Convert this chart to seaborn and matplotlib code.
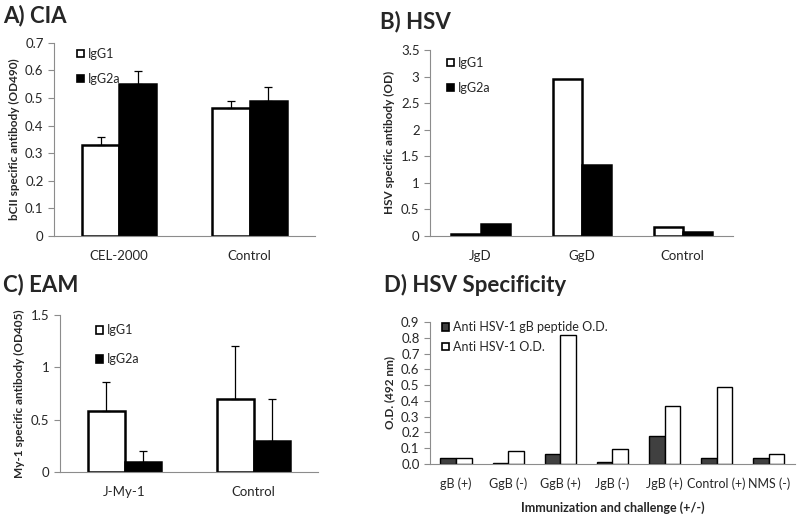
import numpy as np
import pandas as pd
import matplotlib
matplotlib.use("Agg")
import matplotlib.pyplot as plt
import seaborn as sns

# ── data ──────────────────────────────────────────
cia_groups = ["CEL-2000", "Control"]
cia_igg1 = [0.33, 0.465]
cia_igg1_err = [0.03, 0.025]
cia_igg2a = [0.55, 0.49]
cia_igg2a_err = [0.048, 0.05]

hsv_groups = ["JgD", "GgD", "Control"]
hsv_igg1 = [0.03, 2.96, 0.16]
hsv_igg2a = [0.23, 1.33, 0.07]

eam_groups = ["J-My-1", "Control"]
eam_igg1 = [0.58, 0.70]
eam_igg1_err = [0.28, 0.50]
eam_igg2a = [0.10, 0.30]
eam_igg2a_err = [0.10, 0.40]

spec_groups = ["gB (+)", "GgB (-)", "GgB (+)", "JgB (-)", "JgB (+)", "Control (+)", "NMS (-)"]
spec_peptide = [0.04, 0.005, 0.065, 0.01, 0.18, 0.035, 0.035]
spec_hsv1 = [0.035, 0.08, 0.82, 0.095, 0.37, 0.49, 0.06]

FONT = ["Lato", "DejaVu Sans"]
AXIS = "#8c8c8c"

sns.set_style("white")
plt.rcParams["font.family"] = FONT


def long_df(groups, s1, s2, n1, n2):
    return pd.DataFrame({
        "group": list(groups) * 2,
        "series": [n1] * len(groups) + [n2] * len(groups),
        "value": list(s1) + list(s2),
    })


def style_axis(ax, ylim, yticks, fmt, ylabel, ngroups):
    ax.set_ylim(*ylim)
    ax.set_yticks(yticks)
    ax.set_yticklabels([fmt.format(v) for v in yticks], fontsize=9.5)
    ax.set_xlim(-0.5, ngroups - 0.5)
    ax.set_xticks(np.arange(-0.5, ngroups), minor=True)
    ax.tick_params(axis="x", which="major", length=0, labelsize=9.5, pad=10)
    ax.tick_params(axis="x", which="minor", length=4, color=AXIS, direction="out")
    ax.tick_params(axis="y", length=4, color=AXIS, direction="out", left=True)
    for sp in ["top", "right"]:
        ax.spines[sp].set_visible(False)
    for sp in ["left", "bottom"]:
        ax.spines[sp].set_color(AXIS)
        ax.spines[sp].set_linewidth(0.8)
    ax.set_xlabel("")
    ax.set_ylabel(ylabel, fontsize=8.5, fontweight="bold")


def draw_pair(ax, df, order, names, colors, width, lw):
    sns.barplot(data=df, x="group", y="value", hue="series", order=order,
                hue_order=names, palette=colors, width=width, ax=ax,
                edgecolor="black", linewidth=lw, saturation=1, errorbar=None)


def add_err(ax, errs, ngroups):
    # errors upward only, positioned from drawn bars
    bars = ax.patches[: 2 * ngroups]
    for p, e in zip(bars, errs):
        x = p.get_x() + p.get_width() / 2
        y = p.get_height()
        ax.errorbar(x, y, yerr=[[0], [e]], color="black", capsize=3,
                    elinewidth=0.9, capthick=0.9, zorder=5)


def legend(ax, loc, spacing):
    leg = ax.legend(loc="upper left", bbox_to_anchor=loc, frameon=False,
                    fontsize=9, handlelength=0.55, handleheight=0.55,
                    handletextpad=0.3, labelspacing=spacing, borderaxespad=0)
    for h in leg.legend_handles:
        h.set_linewidth(1.2)


fig = plt.figure(figsize=(8, 5.16), dpi=100)

# ── A) CIA ──
axA = fig.add_axes([0.0675, 0.543, 0.326, 0.374])
dfA = long_df(cia_groups, cia_igg1, cia_igg2a, "IgG1", "IgG2a")
draw_pair(axA, dfA, cia_groups, ["IgG1", "IgG2a"], ["white", "black"], 0.57, 1.8)
add_err(axA, cia_igg1_err + cia_igg2a_err, 2)
style_axis(axA, (0, 0.7), np.arange(0, 0.71, 0.1), "{:g}", "bCII specific antibody (OD490)", 2)
legend(axA, (0.07, 1.0), 1.05)
fig.text(0.004, 0.97, "A) CIA", fontsize=16, fontweight="bold", va="center")

# ── B) HSV ──
axB = fig.add_axes([0.5375, 0.543, 0.379, 0.36])
dfB = long_df(hsv_groups, hsv_igg1, hsv_igg2a, "IgG1", "IgG2a")
draw_pair(axB, dfB, hsv_groups, ["IgG1", "IgG2a"], ["white", "black"], 0.575, 1.8)
style_axis(axB, (0, 3.5), np.arange(0, 3.51, 0.5), "{:g}", "HSV specific antibody (OD)", 3)
legend(axB, (0.04, 0.99), 1.05)
fig.text(0.475, 0.958, "B) HSV", fontsize=16, fontweight="bold", va="center")

# ── C) EAM ──
axC = fig.add_axes([0.075, 0.085, 0.3225, 0.305])
dfC = long_df(eam_groups, eam_igg1, eam_igg2a, "IgG1", "IgG2a")
draw_pair(axC, dfC, eam_groups, ["IgG1", "IgG2a"], ["white", "black"], 0.57, 1.8)
add_err(axC, eam_igg1_err + eam_igg2a_err, 2)
style_axis(axC, (0, 1.5), [0, 0.5, 1, 1.5], "{:g}", "My-1 specific antibody (OD405)", 2)
legend(axC, (0.12, 0.97), 1.35)
fig.text(0.004, 0.448, "C) EAM", fontsize=16, fontweight="bold", va="center")

# ── D) HSV Specificity ──
axD = fig.add_axes([0.5375, 0.101, 0.456, 0.275])
dfD = long_df(spec_groups, spec_peptide, spec_hsv1,
              "Anti HSV-1 gB peptide O.D.", "Anti HSV-1 O.D.")
draw_pair(axD, dfD, spec_groups, ["Anti HSV-1 gB peptide O.D.", "Anti HSV-1 O.D."],
          ["#404040", "white"], 0.6, 1.0)
style_axis(axD, (0, 0.9), np.arange(0, 0.91, 0.1), "{:.1f}", "O.D. (492 nm)", 7)
axD.tick_params(axis="x", which="major", labelsize=9)
axD.set_xlabel("Immunization and challenge (+/-)", fontsize=9, fontweight="bold", labelpad=8)
legend(axD, (0.02, 1.04), 0.6)
fig.text(0.48, 0.448, "D) HSV Specificity", fontsize=16, fontweight="bold", va="center")

fig.savefig("out.png", dpi=100, facecolor="white")
